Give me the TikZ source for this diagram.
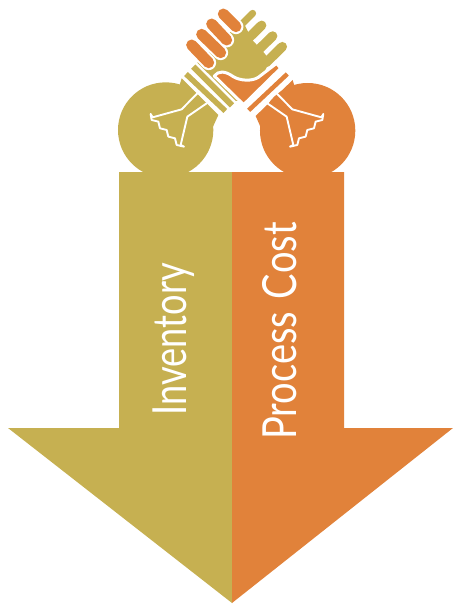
\documentclass[tikz,border=0pt]{standalone}
\usepackage{fontspec}
\newfontfamily\labelfont[FakeStretch=0.77]{Lato}
\newfontfamily\costfont[FakeStretch=0.81, WordSpace=1.3]{Lato}
\usetikzlibrary{positioning}
\definecolor{olive}{HTML}{C6B051}
\definecolor{rust}{HTML}{E1823A}
\tikzset{
  armlabel/.style={text=white, rotate=90, inner sep=0pt, font=\labelfont\fontsize{47}{47}\selectfont},
  cuffline/.style={draw=white, line width=1.9pt, line join=round, line cap=round},
  finger/.style={line width=11pt, line cap=round, rust},
  fingergap/.style={line width=15pt, line cap=round, white},
  thumb/.style={line width=9.5pt, line cap=round, olive},
  band/.style={line cap=butt}
}
\begin{document}
\begin{tikzpicture}[x=1pt, y=-1pt]
    \useasboundingbox (0,0) rectangle (453,606);

    % Arrow
    \fill[olive] (232,172) -- (119,172) -- (119,428) -- (8,428) -- (232,603) -- cycle;
    \fill[rust] (232,172) -- (344,172) -- (344,428) -- (453,428) -- (232,603) -- cycle;

    % Hands, in units of a third of a pixel
    \begin{scope}[shift={(110,0)}, x=0.3333pt, y=-0.3333pt]
        % Circles with their sleeves
        \fill[olive] (167,390) circle (143);
        \fill[rust] (593,392) circle (143);
        \fill[olive] (215,235) -- (325,345) -- (300,400) -- (167,390) -- cycle;
        \fill[rust] (548,240) -- (437,348) -- (460,400) -- (593,392) -- cycle;

        % Olive hand
        \fill[olive] (262,188) -- (398,62) -- (425,118) -- (455,150) -- (480,180) -- (450,245) -- (395,300) -- (378,303) -- cycle;
        \draw[thumb, line width=7pt] (428,40) -- (398,70);
        \draw[thumb] (455,76) -- (405,125);
        \draw[thumb] (488,108) -- (437,158);
        \draw[thumb] (517,140) -- (468,188);

        % Rust hand
        \filldraw[rust, draw=white, line width=3pt, line join=round] (313,228) .. controls (325,212) and (345,212) .. (370,230) .. controls (390,242) and (425,245) .. (445,232) -- (500,190) -- (512,205) -- (401,314) -- cycle;
        \draw[fingergap] (378,80) -- (340,42);
        \draw[finger] (378,80) -- (340,42);
        \draw[fingergap] (350,120) -- (305,72);
        \draw[finger] (350,120) -- (305,72);
        \draw[fingergap] (332,158) -- (275,103);
        \draw[finger] (332,158) -- (275,103);
        \draw[fingergap] (296,188) -- (245,135);
        \draw[finger] (296,188) -- (245,135);

        % Wrist bands
        \draw[band, olive, line width=5.5pt] (228,222) -- (346,333);
        \draw[band, olive, line width=6pt] (250,200) -- (366,316);
        \draw[band, rust, line width=4.5pt] (532,222) -- (416,331);

        % Cuffs
        \draw[cuffline] (262,280) -- (215,328) -- (128,352) -- (122,342) -- (125,360) -- (145,365) -- (150,385) -- (170,390) -- (175,410) -- (195,415) -- (200,435) -- (222,440) -- (212,435) -- (232,350) -- (290,310);
        \draw[cuffline] (500,280) -- (547,328) -- (634,352) -- (640,342) -- (637,360) -- (617,365) -- (612,385) -- (592,390) -- (587,410) -- (567,415) -- (562,435) -- (540,440) -- (550,435) -- (530,350) -- (472,310);
    \end{scope}

    % Labels
    \node[armlabel] (inventory) at (174,339) {Inventory};
    \node[armlabel, font=\costfont\fontsize{47}{47}\selectfont] (processcost) at (280,331) {Process Cost};
\end{tikzpicture}
\end{document}
